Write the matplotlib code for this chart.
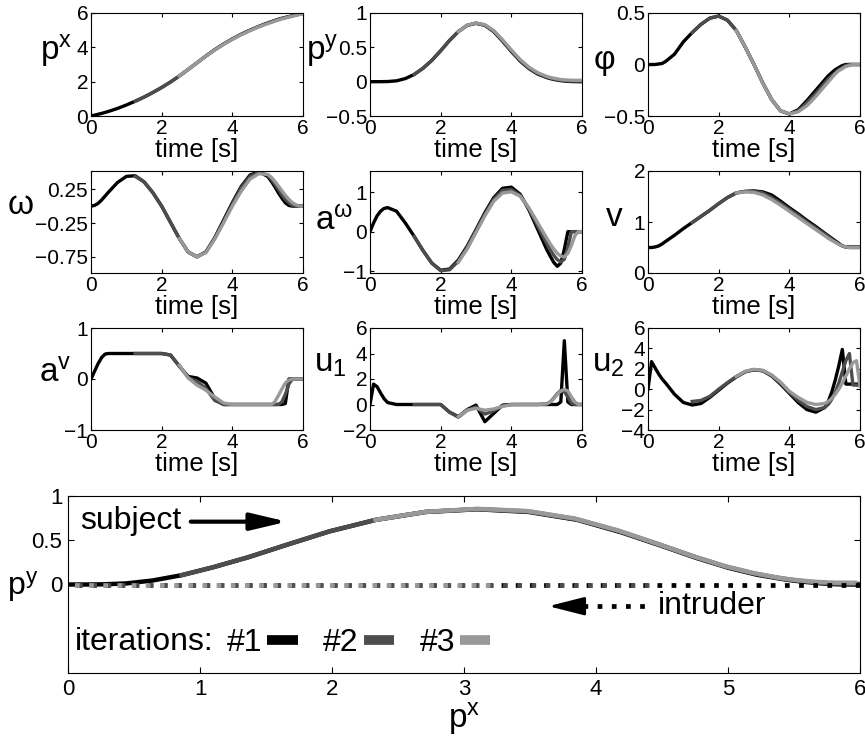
import numpy as np
import matplotlib
matplotlib.use('Agg')
import matplotlib.pyplot as plt
from matplotlib.lines import Line2D
from matplotlib.ticker import FuncFormatter

plt.rcParams['font.family'] = 'Liberation Sans'
plt.rcParams['mathtext.fontset'] = 'custom'
plt.rcParams['mathtext.rm'] = 'Liberation Sans'
plt.rcParams['mathtext.it'] = 'Liberation Sans:italic'
plt.rcParams['axes.linewidth'] = 0.8

# time samples shared by all iterations; iteration k starts at iter_start[k]
t_grid = np.array([0.0, 0.1, 0.2, 0.3, 0.4, 0.5, 0.75, 1.0, 1.25, 1.5, 1.75, 2.0, 2.25, 2.5,
                   2.75, 3.0, 3.25, 3.5, 3.75, 4.0, 4.25, 4.5, 4.75, 5.0, 5.1, 5.2, 5.3, 5.4,
                   5.5, 5.6, 5.7, 5.8, 5.9, 6.0])
iter_start = [0.0, 1.25, 2.5]
iter_colors = ['#000000', '#4d4d4d', '#999999']
iter_labels = ['#1', '#2', '#3']

px_1 = [0.00, 0.05, 0.10, 0.15, 0.21, 0.27, 0.44, 0.64, 0.86, 1.10, 1.37, 1.66, 1.98, 2.33, 2.71, 3.10, 3.49,
        3.86, 4.19, 4.49, 4.76, 5.00, 5.22, 5.42, 5.49, 5.56, 5.63, 5.69, 5.74, 5.79, 5.84, 5.89, 5.94, 5.99]
px_2 = [0.86, 1.10, 1.37, 1.66, 1.98, 2.33, 2.71, 3.10, 3.49, 3.85, 4.18, 4.48, 4.75, 4.99, 5.21, 5.41, 5.48,
        5.55, 5.62, 5.68, 5.73, 5.78, 5.83, 5.88, 5.93, 5.98]
px_3 = [2.33, 2.71, 3.10, 3.48, 3.84, 4.17, 4.46, 4.73, 4.97, 5.19, 5.38, 5.45, 5.52, 5.59, 5.65, 5.71, 5.76,
        5.81, 5.86, 5.91, 5.96]

py_1 = [0.000, 0.000, 0.000, 0.000, 0.001, 0.002, 0.012, 0.045, 0.105, 0.195, 0.310, 0.450, 0.600, 0.730,
        0.820, 0.850, 0.820, 0.730, 0.590, 0.440, 0.300, 0.190, 0.110, 0.060, 0.045, 0.033, 0.023, 0.015,
        0.009, 0.005, 0.002, 0.001, 0.000, 0.000]
py_2 = [0.105, 0.195, 0.310, 0.450, 0.600, 0.730, 0.820, 0.852, 0.825, 0.738, 0.600, 0.452, 0.312, 0.200,
        0.120, 0.068, 0.053, 0.040, 0.030, 0.022, 0.016, 0.012, 0.010, 0.009, 0.008, 0.008]
py_3 = [0.730, 0.822, 0.855, 0.830, 0.745, 0.610, 0.462, 0.322, 0.210, 0.130, 0.077, 0.062, 0.050, 0.040,
        0.032, 0.027, 0.023, 0.021, 0.020, 0.020, 0.020]

phi_1 = [0.00, 0.00, 0.00, 0.005, 0.01, 0.03, 0.10, 0.22, 0.31, 0.39, 0.45, 0.47, 0.43, 0.33, 0.17, 0.00,
         -0.18, -0.34, -0.45, -0.48, -0.44, -0.35, -0.25, -0.15, -0.11, -0.08, -0.05, -0.03, -0.01, 0.00,
         0.00, 0.00, 0.00, 0.00]
phi_2 = [0.31, 0.39, 0.45, 0.47, 0.43, 0.33, 0.17, 0.00, -0.18, -0.34, -0.45, -0.48, -0.45, -0.37, -0.28,
         -0.18, -0.14, -0.11, -0.08, -0.05, -0.03, -0.01, 0.00, 0.00, 0.00, 0.00]
phi_3 = [0.33, 0.17, 0.00, -0.18, -0.34, -0.45, -0.48, -0.46, -0.40, -0.31, -0.21, -0.17, -0.13, -0.09,
         -0.06, -0.04, -0.02, -0.01, 0.00, 0.00, 0.00]

om_1 = [0.00, 0.01, 0.04, 0.09, 0.15, 0.21, 0.35, 0.44, 0.45, 0.36, 0.20, 0.00, -0.24, -0.48, -0.68, -0.75,
        -0.68, -0.47, -0.21, 0.05, 0.29, 0.46, 0.51, 0.44, 0.37, 0.29, 0.20, 0.12, 0.05, 0.01, 0.00, 0.00,
        0.00, 0.00]
om_2 = [0.44, 0.36, 0.20, 0.00, -0.24, -0.48, -0.68, -0.75, -0.68, -0.48, -0.23, 0.03, 0.27, 0.44, 0.50,
        0.46, 0.40, 0.33, 0.25, 0.17, 0.10, 0.05, 0.01, 0.00, 0.00, 0.00]
om_3 = [-0.48, -0.68, -0.75, -0.69, -0.49, -0.25, 0.00, 0.22, 0.40, 0.48, 0.47, 0.43, 0.37, 0.30, 0.23,
        0.16, 0.10, 0.05, 0.02, 0.00, 0.00]

aom_1 = [0.00, 0.22, 0.40, 0.52, 0.59, 0.61, 0.52, 0.22, -0.12, -0.48, -0.80, -0.98, -0.95, -0.72, -0.37,
         0.05, 0.48, 0.86, 1.10, 1.13, 0.95, 0.55, 0.05, -0.45, -0.62, -0.78, -0.88, -0.80, -0.45, 0.00,
         0.00, 0.00, 0.00, 0.00]
aom_2 = [-0.12, -0.48, -0.80, -0.99, -0.97, -0.75, -0.40, 0.02, 0.44, 0.82, 1.05, 1.07, 0.92, 0.58, 0.14,
         -0.30, -0.46, -0.60, -0.71, -0.77, -0.70, -0.40, 0.00, 0.00, 0.00, 0.00]
aom_3 = [-0.78, -0.44, -0.02, 0.40, 0.77, 0.98, 1.01, 0.90, 0.60, 0.22, -0.16, -0.31, -0.44, -0.55, -0.62,
         -0.64, -0.55, -0.35, -0.10, 0.00, 0.00]

v_1 = [0.50, 0.50, 0.51, 0.53, 0.57, 0.62, 0.74, 0.87, 0.99, 1.11, 1.23, 1.36, 1.48, 1.57, 1.60, 1.61, 1.59,
       1.53, 1.41, 1.28, 1.16, 1.03, 0.91, 0.78, 0.73, 0.68, 0.63, 0.58, 0.53, 0.51, 0.51, 0.51, 0.51, 0.51]
v_2 = [0.99, 1.11, 1.23, 1.36, 1.48, 1.57, 1.60, 1.60, 1.57, 1.48, 1.37, 1.25, 1.13, 1.00, 0.88, 0.76, 0.71,
       0.66, 0.61, 0.57, 0.53, 0.51, 0.50, 0.50, 0.50, 0.50]
v_3 = [1.57, 1.59, 1.58, 1.53, 1.44, 1.33, 1.21, 1.09, 0.97, 0.85, 0.73, 0.68, 0.64, 0.60, 0.56, 0.53, 0.51,
       0.50, 0.50, 0.50, 0.50]

av_1 = [0.00, 0.15, 0.30, 0.42, 0.49, 0.50, 0.50, 0.50, 0.50, 0.50, 0.50, 0.50, 0.47, 0.25, 0.05, 0.02,
        -0.08, -0.38, -0.50, -0.50, -0.50, -0.50, -0.50, -0.50, -0.50, -0.50, -0.50, -0.50, -0.48, 0.00,
        0.00, 0.00, 0.00, 0.00]
av_2 = [0.50, 0.50, 0.50, 0.50, 0.47, 0.26, 0.03, -0.05, -0.18, -0.42, -0.50, -0.50, -0.50, -0.50, -0.50,
        -0.50, -0.50, -0.50, -0.50, -0.45, -0.30, -0.10, 0.00, 0.00, 0.00, 0.00]
av_3 = [0.27, 0.02, -0.12, -0.22, -0.35, -0.47, -0.50, -0.50, -0.50, -0.50, -0.50, -0.50, -0.45, -0.33,
        -0.20, -0.08, -0.02, 0.00, 0.00, 0.00, 0.00]

u1_1 = [0.0, 1.6, 1.4, 0.9, 0.45, 0.15, 0.0, 0.0, 0.0, 0.0, 0.0, 0.0, -0.6, -0.95, -0.4, -0.05, -1.35, -0.7,
        -0.05, 0.0, 0.0, 0.0, 0.0, 0.0, 0.0, 0.0, 0.0, 0.2, 5.0, 0.2, 0.0, 0.0, 0.0, 0.0]
u1_2 = [0.0, 0.0, 0.0, 0.0, -0.6, -1.0, -0.45, -0.2, -0.75, -0.5, -0.1, 0.0, 0.0, 0.0, 0.0, 0.05, 0.2, 0.5,
        0.85, 1.1, 1.0, 0.6, 0.1, 0.0, 0.0, 0.0]
u1_3 = [-0.95, -0.45, -0.3, -0.45, -0.35, -0.15, -0.02, 0.0, 0.0, 0.0, 0.05, 0.2, 0.45, 0.8, 1.05, 1.2, 1.05,
        0.6, 0.2, 0.0, 0.0]

u2_1 = [0.0, 2.7, 2.1, 1.5, 1.0, 0.6, -0.5, -1.3, -1.55, -1.4, -0.8, -0.1, 0.6, 1.2, 1.7, 1.9, 1.8, 1.3, 0.5,
        -0.4, -1.3, -2.0, -2.25, -1.8, -1.2, -0.3, 0.9, 2.3, 3.9, 0.5, 0.5, 0.5, 0.5, 0.5]
u2_2 = [-1.2, -1.1, -0.7, 0.0, 0.65, 1.25, 1.72, 1.92, 1.82, 1.35, 0.6, -0.3, -1.1, -1.7, -2.0, -1.8, -1.5,
        -1.0, -0.3, 0.6, 1.7, 2.8, 3.5, 0.4, 0.4, 0.4]
u2_3 = [1.25, 1.75, 1.95, 1.85, 1.4, 0.7, -0.2, -0.8, -1.3, -1.5, -1.4, -1.2, -0.9, -0.5, 0.0, 0.6, 1.3, 2.0,
        2.6, 2.8, 0.3]

# intruder moves along p^y = 0 from its start p^x back to 0
intruder_px = [6.0, 4.4, 3.2]
intruder_py = 0.0

W, H = 865.0, 742.0


def add_axes_px(fig, x0, y0, x1, y1):
    return fig.add_axes([x0 / W, 1 - y1 / H, (x1 - x0) / W, (y1 - y0) / H])


def fmt(v, pos):
    return ('%g' % v).replace('-', '\u2212')


fig = plt.figure(figsize=(W / 100, H / 100), dpi=100)

panels = [
    ([px_1, px_2, px_3], r'$\mathregular{p^x}$', (0, 6), [0, 2, 4, 6], (-0.09, 0.64)),
    ([py_1, py_2, py_3], r'$\mathregular{p^y}$', (-0.5, 1), [-0.5, 0, 0.5, 1], (-0.15, 0.64)),
    ([phi_1, phi_2, phi_3], '\u03c6', (-0.5, 0.5), [-0.5, 0, 0.5], (-0.156, 0.54)),
    ([om_1, om_2, om_3], '\u03c9', (-0.99, 0.52), [-0.75, -0.25, 0.25], (-0.27, 0.66)),
    ([aom_1, aom_2, aom_3], r'$\mathregular{a^{\omega}}$', (-1.05, 1.54), [-1, 0, 1], (-0.08, 0.50)),
    ([v_1, v_2, v_3], 'v', (0, 2), [0, 1, 2], (-0.118, 0.54)),
    ([av_1, av_2, av_3], r'$\mathregular{a^v}$', (-1, 1), [-1, 0, 1], (-0.09, 0.55)),
    ([u1_1, u1_2, u1_3], r'$\mathregular{u_1}$', (-2, 6), [-2, 0, 2, 4, 6], (-0.108, 0.65)),
    ([u2_1, u2_2, u2_3], r'$\mathregular{u_2}$', (-4, 6), [-4, -2, 0, 2, 4, 6], (-0.108, 0.65)),
]
cols = [(91, 303), (370, 582), (648, 860)]
rows = [(13, 116), (171, 273), (328, 430)]

for k, (series, lab, ylim, yt, lc) in enumerate(panels):
    r, c = divmod(k, 3)
    ax = add_axes_px(fig, cols[c][0], rows[r][0], cols[c][1], rows[r][1])
    for i in range(3):
        t = t_grid[t_grid >= iter_start[i]]
        ax.plot(t, series[i], color=iter_colors[i], lw=2.4, solid_joinstyle='round')
    ax.set_xlim(0, 6)
    ax.set_ylim(*ylim)
    ax.set_xticks([0, 2, 4, 6])
    ax.set_yticks(yt)
    ax.yaxis.set_major_formatter(FuncFormatter(fmt))
    ax.tick_params(direction='in', length=3, width=0.8, top=True, right=True, pad=2, labelsize=15)
    ax.set_xlabel('time [s]', fontsize=18.5, labelpad=0)
    ax.set_ylabel(lab, fontsize=24, rotation=0, ha='right', va='center')
    ax.yaxis.set_label_coords(*lc)

# trajectory of subject and intruder in the plane
ax = add_axes_px(fig, 68, 496, 860, 673)
px_all = [px_1, px_2, px_3]
py_all = [py_1, py_2, py_3]
for i in range(3):
    ax.plot(px_all[i], py_all[i], color=iter_colors[i], lw=3.2, solid_joinstyle='round')
for i in range(3):
    ax.plot([intruder_px[i], 0.0], [intruder_py, intruder_py], color=iter_colors[i], lw=3.4,
            ls=(0, (1, 2.0)), dash_capstyle='butt')

ax.set_xlim(0, 6)
ax.set_ylim(-1, 1)
ax.set_xticks(range(7))
ax.set_yticks([0, 0.5, 1])
ax.yaxis.set_major_formatter(FuncFormatter(fmt))
ax.tick_params(direction='in', length=4, width=0.8, top=True, right=True, pad=4, labelsize=16)
ax.set_xlabel(r'$\mathregular{p^x}$', fontsize=24, labelpad=0)
ax.set_ylabel(r'$\mathregular{p^y}$', fontsize=23, rotation=0, ha='right', va='center')
ax.yaxis.set_label_coords(-0.038, 0.486)

# annotations
ax.text(0.09, 0.72, 'subject', fontsize=23, va='center', ha='left')
ax.annotate('', xy=(1.66, 0.71), xytext=(0.93, 0.71),
            arrowprops=dict(arrowstyle='-|>,head_length=1.1,head_width=0.26', lw=3, color='k',
                            mutation_scale=20, shrinkA=0, shrinkB=0))
ax.text(4.47, -0.24, 'intruder', fontsize=23, va='center', ha='left')
ax.plot([3.9, 4.39], [-0.245, -0.245], color='k', lw=3.4, ls=(0, (1, 2.0)), dash_capstyle='butt')
ax.annotate('', xy=(3.64, -0.245), xytext=(3.92, -0.245),
            arrowprops=dict(arrowstyle='-|>,head_length=1.1,head_width=0.28', lw=2, color='k',
                            mutation_scale=20, shrinkA=0, shrinkB=0))

ax.text(0.05, -0.65, 'iterations:', fontsize=23, va='center', ha='left')
handles = [Line2D([], [], color=c, lw=7, solid_capstyle='butt') for c in iter_colors]
ax.legend(handles, iter_labels, ncol=3, markerfirst=False, frameon=False, fontsize=23,
          handlelength=0.95, handletextpad=0.15, columnspacing=0.8, borderpad=0, borderaxespad=0,
          loc='center left', bbox_to_anchor=((227 - 68) / 792, (673 - 643) / 177))

fig.savefig('out.png', dpi=100)
